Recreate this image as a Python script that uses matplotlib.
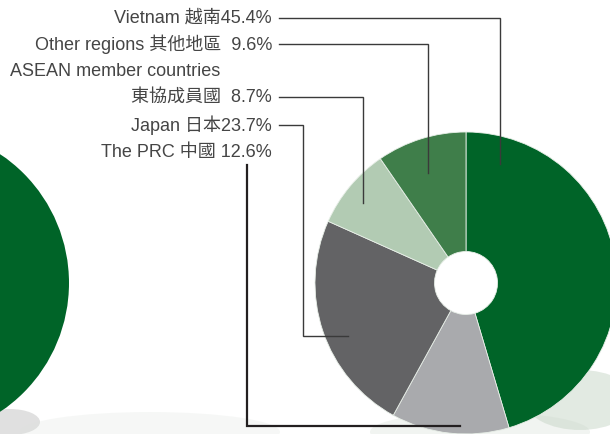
import matplotlib
matplotlib.use("Agg")
import matplotlib.pyplot as plt
from matplotlib.patches import Circle, Ellipse

# share of sales by region, clockwise from 12 o'clock
regions = ["Vietnam", "The PRC", "Japan", "ASEAN", "Other regions"]
shares = [45.4, 12.6, 23.7, 8.7, 9.6]
colors = ["#006428", "#a9aaad", "#636365", "#b2cbb3", "#3f7e4a"]

label_text = ["Vietnam 越南45.4%",
              "Other regions 其他地區  9.6%",
              "東協成員國  8.7%",
              "Japan 日本23.7%",
              "The PRC 中國 12.6%"]
asean_header = "ASEAN member countries"

W, H = 610, 434
fig = plt.figure(figsize=(6.1, 4.34), dpi=100)
ax = fig.add_axes([0, 0, 1, 1])

def Y(py):
    # pixel row -> data y
    return H - py

# faint misty background at the bottom
for (x, y, w, h, c, a) in [(10, 422, 60, 26, "#9a9a9a", 0.3),
                            (150, 432, 260, 40, "#dde3dd", 0.25),
                            (580, 400, 110, 60, "#8fae8f", 0.25),
                            (480, 432, 220, 40, "#c8d4c8", 0.25)]:
    ax.add_patch(Ellipse((x, Y(y)), w, h, color=c, alpha=a, lw=0, zorder=0))

# big green disc cut off on the left
ax.add_patch(Circle((-86, Y(283)), 155, color="#006428", lw=0, zorder=1))

cx, cy, R, r_in = 466, 283, 151, 31.5
ax.pie(shares, colors=colors, startangle=90, counterclock=False,
       center=(cx, Y(cy)), radius=R, frame=True,
       wedgeprops=dict(width=R - r_in, linewidth=0.6, edgecolor="#e8efe8"))
ax.set_xlim(0, W)
ax.set_ylim(0, H)
ax.set_aspect("equal")
ax.axis("off")

font = dict(family=["Liberation Sans", "Noto Sans CJK TC"], fontsize=13,
            color="#454545")
text_y = [18, 44, 97, 125, 152]
for t, y in zip(label_text, text_y):
    ax.text(272, Y(y), t, ha="right", va="center", **font)
ax.text(10, Y(71), asean_header, ha="left", va="center", **font)

thin = dict(color="#3a3a3a", lw=1.0, zorder=5)
thick = dict(color="#231f20", lw=1.6, zorder=5)
leaders = [([279, 500, 500], [18, 18, 164], thin),
           ([279, 428, 428], [44, 44, 173], thin),
           ([279, 363, 363], [97, 97, 203], thin),
           ([279, 303, 303, 348], [125, 125, 336, 336], thin),
           ([247, 247, 460], [165, 426, 426], thick)]
for xs, ys, st in leaders:
    ax.plot(xs, [Y(v) for v in ys], solid_joinstyle="miter", **st)

fig.savefig("out.png", dpi=100)
